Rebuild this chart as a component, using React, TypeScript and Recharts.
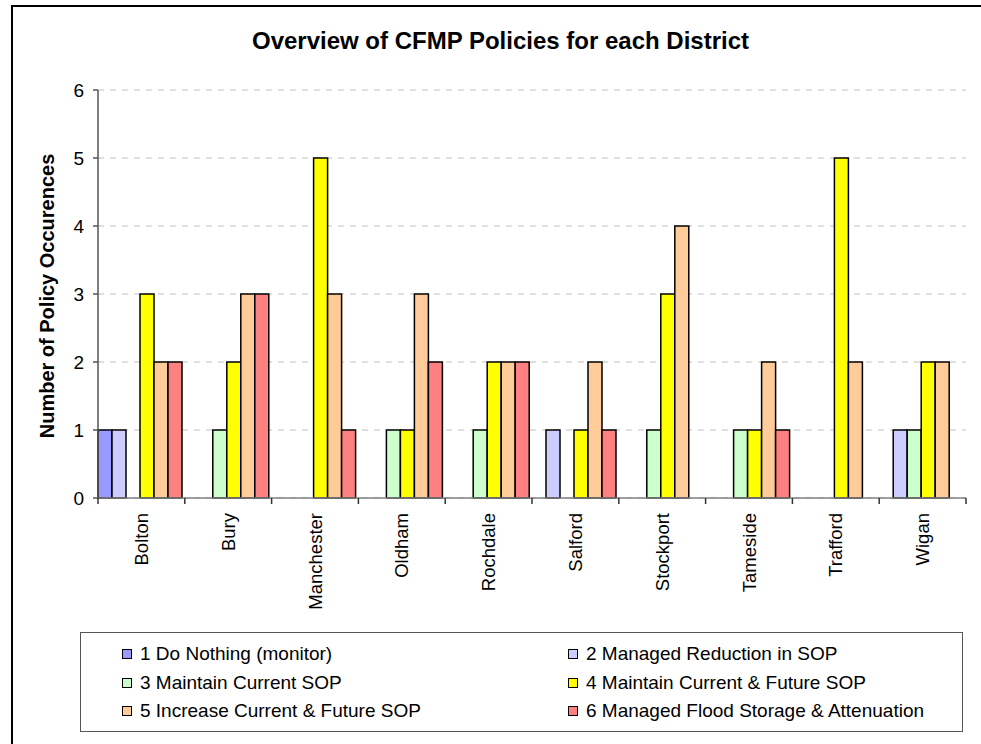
import { Bar, BarChart, CartesianGrid, XAxis, YAxis } from "recharts";

const DISTRICTS = [
  "Bolton",
  "Bury",
  "Manchester",
  "Oldham",
  "Rochdale",
  "Salford",
  "Stockport",
  "Tameside",
  "Trafford",
  "Wigan",
];

// policy counts per district, same order as DISTRICTS
const DO_NOTHING = [1, 0, 0, 0, 0, 0, 0, 0, 0, 0];
const MANAGED_REDUCTION = [1, 0, 0, 0, 0, 1, 0, 0, 0, 1];
const MAINTAIN_CURRENT = [0, 1, 0, 1, 1, 0, 1, 1, 0, 1];
const MAINTAIN_FUTURE = [3, 2, 5, 1, 2, 1, 3, 1, 5, 2];
const INCREASE_FUTURE = [2, 3, 3, 3, 2, 2, 4, 2, 2, 2];
const FLOOD_STORAGE = [2, 3, 1, 2, 2, 1, 0, 1, 0, 0];

const Y_TICKS = [0, 1, 2, 3, 4, 5, 6];

const SERIES = [
  { key: "p1", name: "1 Do Nothing (monitor)", color: "#9999FF", values: DO_NOTHING },
  { key: "p2", name: "2 Managed Reduction in SOP", color: "#CCCCFF", values: MANAGED_REDUCTION },
  { key: "p3", name: "3 Maintain Current SOP", color: "#CCFFCC", values: MAINTAIN_CURRENT },
  { key: "p4", name: "4 Maintain Current & Future SOP", color: "#FFFF00", values: MAINTAIN_FUTURE },
  { key: "p5", name: "5 Increase Current & Future SOP", color: "#FFCC99", values: INCREASE_FUTURE },
  { key: "p6", name: "6 Managed Flood Storage & Attenuation", color: "#FF8080", values: FLOOD_STORAGE },
];

const rows = DISTRICTS.map((district, i) => {
  const row: Record<string, string | number> = { district };
  SERIES.forEach((s) => (row[s.key] = s.values[i]));
  return row;
});

const FONT = "Arial, 'Liberation Sans', sans-serif";

// district name, rotated, plus the divider ticks between categories
function DistrictTick(props: any) {
  const { x, y, payload, index, width } = props;
  const half = payload.offset || width / DISTRICTS.length / 2;
  const axisY = y - 15;
  const last = index === DISTRICTS.length - 1;
  return (
    <g>
      <line x1={x - half} x2={x - half} y1={axisY} y2={axisY + 6} stroke="#333" strokeWidth={1.5} />
      {last && (
        <line x1={x + half} x2={x + half} y1={axisY} y2={axisY + 6} stroke="#333" strokeWidth={1.5} />
      )}
      <text
        x={x}
        y={y}
        transform={`rotate(-90 ${x} ${y})`}
        textAnchor="end"
        dominantBaseline="central"
        fontFamily={FONT}
        fontSize={18.5}
        fill="#000"
      >
        {payload.value}
      </text>
    </g>
  );
}

function PolicyLegend() {
  return (
    <div
      style={{
        position: "absolute",
        left: 80,
        top: 632,
        width: 883,
        height: 100,
        border: "1px solid #555",
        background: "#fff",
        fontFamily: FONT,
        fontSize: 19,
        display: "grid",
        gridTemplateColumns: "487px 396px",
        gridTemplateRows: "repeat(3, 28.5px)",
        paddingTop: 7,
        boxSizing: "border-box",
      }}
    >
      {SERIES.map((s, i) => (
        <div
          key={s.key}
          style={{
            display: "flex",
            alignItems: "center",
            paddingLeft: i % 2 === 0 ? 41 : 0,
            whiteSpace: "nowrap",
          }}
        >
          <span
            style={{
              flex: "none",
              width: 8,
              height: 8,
              background: s.color,
              border: "1px solid #000",
              marginRight: 8,
            }}
          />
          {s.name}
        </div>
      ))}
    </div>
  );
}

export default function App() {
  return (
    <div
      style={{
        position: "fixed",
        left: 0,
        top: 0,
        width: 981,
        height: 744,
        overflow: "hidden",
        background: "#fff",
      }}
    >
      <div
        style={{
          position: "absolute",
          left: 11,
          top: 5,
          width: 1000,
          height: 800,
          border: "2px solid #000",
        }}
      />
      <div
        style={{
          position: "absolute",
          left: 0,
          width: 1001,
          top: 27,
          textAlign: "center",
          fontFamily: FONT,
          fontWeight: "bold",
          fontSize: 24,
        }}
      >
        Overview of CFMP Policies for each District
      </div>
      <div
        style={{
          position: "absolute",
          left: 47,
          top: 296,
          transform: "translate(-50%, -50%) rotate(-90deg)",
          whiteSpace: "nowrap",
          fontFamily: FONT,
          fontWeight: "bold",
          fontSize: 20,
        }}
      >
        Number of Policy Occurences
      </div>
      <div style={{ position: "absolute", left: 0, top: 0 }}>
        <BarChart
          width={981}
          height={744}
          data={rows}
          margin={{ top: 90, right: 15, bottom: 245, left: 38 }}
          barCategoryGap={0}
          barGap={0}
        >
          <CartesianGrid
            vertical={false}
            stroke="#C0C0C0"
            strokeDasharray="6 6"
            yAxisId="y"
            xAxisId="cat"
          />
          <XAxis
            xAxisId="cat"
            dataKey="district"
            height={1}
            axisLine={{ stroke: "#808080", strokeWidth: 1.5 }}
            tickLine={false}
            tickSize={6}
            tickMargin={9}
            interval={0}
            tick={<DistrictTick />}
          />
          <YAxis
            yAxisId="y"
            width={60}
            domain={[0, 6]}
            ticks={Y_TICKS}
            interval={0}
            axisLine={{ stroke: "#555", strokeWidth: 1.5 }}
            tickLine={{ stroke: "#555", strokeWidth: 1.5 }}
            tickSize={5}
            tickMargin={9}
            tick={{ fill: "#000", fontFamily: FONT, fontSize: 19 }}
          />
          {SERIES.map((s) => (
            <Bar
              key={s.key}
              dataKey={s.key}
              name={s.name}
              xAxisId="cat"
              yAxisId="y"
              fill={s.color}
              stroke="#000"
              strokeWidth={1.5}
              isAnimationActive={false}
            />
          ))}
        </BarChart>
      </div>
      <PolicyLegend />
    </div>
  );
}
